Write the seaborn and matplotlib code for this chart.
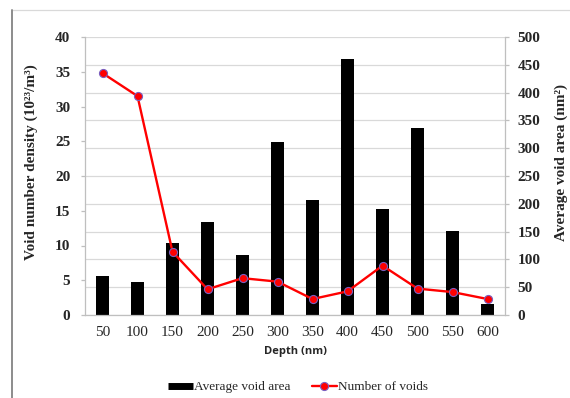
import matplotlib
matplotlib.use("Agg")
import matplotlib.pyplot as plt
import seaborn as sns
import pandas as pd
from matplotlib.lines import Line2D

# Depth profile of voids
depths = ["50", "100", "150", "200", "250", "300", "350", "400", "450", "500", "550", "600"]
avg_void_area = [71, 59, 129, 168, 108, 312, 207, 460, 190, 337, 151, 20]          # nm^2
void_density = [34.8, 31.5, 9.1, 3.7, 5.3, 4.8, 2.3, 3.4, 7.1, 3.8, 3.3, 2.3]     # 10^23 / m^3

left_ticks = list(range(0, 45, 5))
right_ticks = list(range(0, 550, 50))

df = pd.DataFrame({"depth": depths, "area": avg_void_area, "density": void_density})

sns.set_theme(style="white")
plt.rcParams["font.family"] = ["Liberation Serif", "DejaVu Serif"]

fig = plt.figure(figsize=(5.70, 3.98), dpi=100)
ax = fig.add_axes([85 / 570, 1 - 315 / 398, 420 / 570, 278 / 398])
ax2 = ax.twinx()

# bars (area, right axis) sit underneath the density line (left axis)
ax.set_zorder(2)
ax2.set_zorder(1)
ax.patch.set_visible(False)

grid_c = "#d9d9d9"
ax2.set_axisbelow(True)
ax2.yaxis.grid(True, color=grid_c, linewidth=0.9)

sns.barplot(data=df, x="depth", y="area", ax=ax2, color="black", width=0.39,
            saturation=1, edgecolor="none")
sns.lineplot(x=list(range(len(depths))), y=void_density, ax=ax, color="#ff0000",
             linewidth=1.7, marker="o", markersize=5.8, markerfacecolor="#ff0000",
             markeredgecolor="#7a5fc0", markeredgewidth=0.8)

ax.set_xlim(-0.5, len(depths) - 0.5)
ax2.set_xlim(-0.5, len(depths) - 0.5)
ax.set_ylim(0, 40)
ax2.set_ylim(0, 500)
ax.set_yticks(left_ticks)
ax2.set_yticks(right_ticks)
ax.set_xticks(range(len(depths)))
ax.set_xticklabels(depths)

for a in (ax, ax2):
    for s in a.spines.values():
        s.set_visible(False)
    a.set_xlabel("")
    a.set_ylabel("")

spine_c = "#bfbfbf"
for a, side in ((ax, "left"), (ax2, "right")):
    a.spines[side].set_visible(True)
    a.spines[side].set_color(spine_c)
    a.spines[side].set_linewidth(0.9)
ax.spines["bottom"].set_visible(True)
ax.spines["bottom"].set_color(spine_c)
ax.spines["bottom"].set_linewidth(0.9)

ax.tick_params(axis="y", which="major", direction="out", length=3, width=0.9,
               color=spine_c, pad=7.5, labelsize=11, left=True)
ax2.tick_params(axis="y", which="major", direction="out", length=3, width=0.9,
                color=spine_c, pad=6, labelsize=11, right=True)
ax.tick_params(axis="x", length=0, pad=8, labelsize=11)
ax2.tick_params(axis="x", length=0, labelbottom=False)
for lab in ax.get_yticklabels() + ax2.get_yticklabels():
    lab.set_fontweight("bold")

ax.set_ylabel("Void number density (10²³/m³)", fontsize=11, fontweight="bold")
ax2.set_ylabel("Average void area (nm²)", fontsize=11, fontweight="bold")
ax.yaxis.set_label_coords(-0.111, 0.55)
ax2.yaxis.set_label_coords(1.117, 0.55)
ax.set_xlabel("Depth (nm)", fontsize=8, fontweight="bold",
              family=["Open Sans", "DejaVu Sans"], labelpad=5)

handles = [
    Line2D([0], [0], color="black", linewidth=5, solid_capstyle="butt"),
    Line2D([0], [0], color="#ff0000", linewidth=1.7, marker="o", markersize=5.8,
           markerfacecolor="#ff0000", markeredgecolor="#7a5fc0", markeredgewidth=0.8),
]
fig.legend(handles, ["Average void area", "Number of voids"], loc="center",
           bbox_to_anchor=(298 / 570, 1 - 387 / 398), ncol=2, frameon=False,
           fontsize=9.5, handlelength=1.9, handletextpad=0.1, columnspacing=1.6)

# partial frame around the chart area
fig.add_artist(Line2D([12 / 570, 1], [1 - 10 / 398] * 2, transform=fig.transFigure,
                      color="#d9d9d9", linewidth=0.9))
fig.add_artist(Line2D([12 / 570] * 2, [0, 1 - 10 / 398], transform=fig.transFigure,
                      color="#8c8c8c", linewidth=1.4))

fig.savefig("out.png", dpi=100, facecolor="white")
